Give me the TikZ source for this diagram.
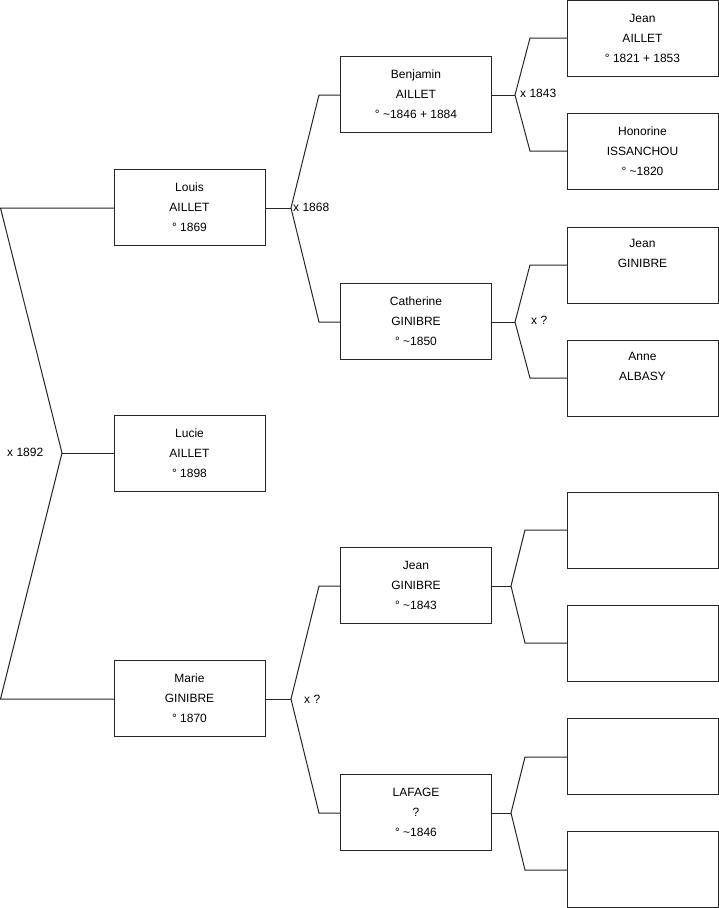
\documentclass[tikz,border=0pt]{standalone}
\usepackage{fontspec}
\setmainfont{Liberation Sans}
\begin{document}
\begin{tikzpicture}[x=1pt,y=-1pt,
  person/.style={draw=black!85, line width=1pt, minimum width=151pt, minimum height=76pt,
    inner sep=0pt, outer sep=0pt, align=center, font=\fontsize{12}{20}\selectfont},
  link/.style={draw=black!85, line width=1pt},
  union/.style={font=\fontsize{12}{14}\selectfont, inner sep=0pt}]
\useasboundingbox (0,0) rectangle (719,908);
% generation 1
\node[person] (louis) at (189.5,207.5) {Louis\\AILLET\\° 1869};
\node[person] (lucie) at (189.5,453.5) {Lucie\\AILLET\\° 1898};
\node[person] (marie) at (189.5,698.5) {Marie\\GINIBRE\\° 1870};
% generation 2
\node[person] (benjamin) at (416,94.5) {Benjamin\\AILLET\\° \textasciitilde1846 + 1884};
\node[person] (catherine) at (416,321.5) {Catherine\\GINIBRE\\° \textasciitilde1850};
\node[person] (jeang) at (416,585.5) {Jean\\GINIBRE\\° \textasciitilde1843};
\node[person] (lafage) at (416,812.5) {LAFAGE\\?\\° \textasciitilde1846};
% generation 3
\node[person] (jeana3) at (642.5,38.5) {Jean\\AILLET\\° 1821 + 1853};
\node[person] (honorine) at (642.5,151) {Honorine\\ISSANCHOU\\° \textasciitilde1820};
\node[person] (jeang3) at (642.5,265) {Jean\\GINIBRE\\\phantom{Ag}};
\node[person] (anne) at (642.5,378) {Anne\\ALBASY\\\phantom{Ag}};
\node[person] (e1) at (642.5,530) {};
\node[person] (e2) at (642.5,643) {};
\node[person] (e3) at (642.5,756) {};
\node[person] (e4) at (642.5,869.5) {};
% junction coordinates
\coordinate (r1) at (0.5,208);
\coordinate (rv) at (62,453);
\coordinate (r3) at (0.5,699);
\coordinate (lv) at (291,208);
\coordinate (lu) at (319,95);
\coordinate (ld) at (319,322);
\coordinate (mv) at (291,699);
\coordinate (mu) at (319,586);
\coordinate (md) at (319,813);
\coordinate (bv) at (515,95);
\coordinate (bu) at (530,38);
\coordinate (bd) at (530,151);
\coordinate (cv) at (515,322);
\coordinate (cu) at (530,265);
\coordinate (cd) at (530,378);
\coordinate (jv) at (511,586);
\coordinate (ju) at (525,530);
\coordinate (jd) at (525,643);
\coordinate (fv) at (511,813);
\coordinate (fu) at (525,757);
\coordinate (fd) at (525,870);
% connectors
\draw[link] (louis.west |- r1) -- (r1) -- (rv) -- (r3) -- (marie.west |- r3);
\draw[link] (rv) -- (lucie.west |- rv);
\draw[link] (louis.east |- lv) -- (lv);
\draw[link] (lu -| benjamin.west) -- (lu) -- (lv) -- (ld) -- (ld -| catherine.west);
\draw[link] (marie.east |- mv) -- (mv);
\draw[link] (mu -| jeang.west) -- (mu) -- (mv) -- (md) -- (md -| lafage.west);
\draw[link] (benjamin.east |- bv) -- (bv);
\draw[link] (bu -| jeana3.west) -- (bu) -- (bv) -- (bd) -- (bd -| honorine.west);
\draw[link] (catherine.east |- cv) -- (cv);
\draw[link] (cu -| jeang3.west) -- (cu) -- (cv) -- (cd) -- (cd -| anne.west);
\draw[link] (jeang.east |- jv) -- (jv);
\draw[link] (ju -| e1.west) -- (ju) -- (jv) -- (jd) -- (jd -| e2.west);
\draw[link] (lafage.east |- fv) -- (fv);
\draw[link] (fu -| e3.west) -- (fu) -- (fv) -- (fd) -- (fd -| e4.west);
% union labels
\node[union, anchor=west] (u1892) at (7,452) {x 1892};
\node[union, anchor=west] (u1868) at (293,207) {x 1868};
\node[union, anchor=west] (u1843) at (520,93) {x 1843};
\node[union, anchor=west] (ucath) at (531,320) {x ?};
\node[union, anchor=west] (umarie) at (304,699) {x ?};
\end{tikzpicture}
\end{document}
